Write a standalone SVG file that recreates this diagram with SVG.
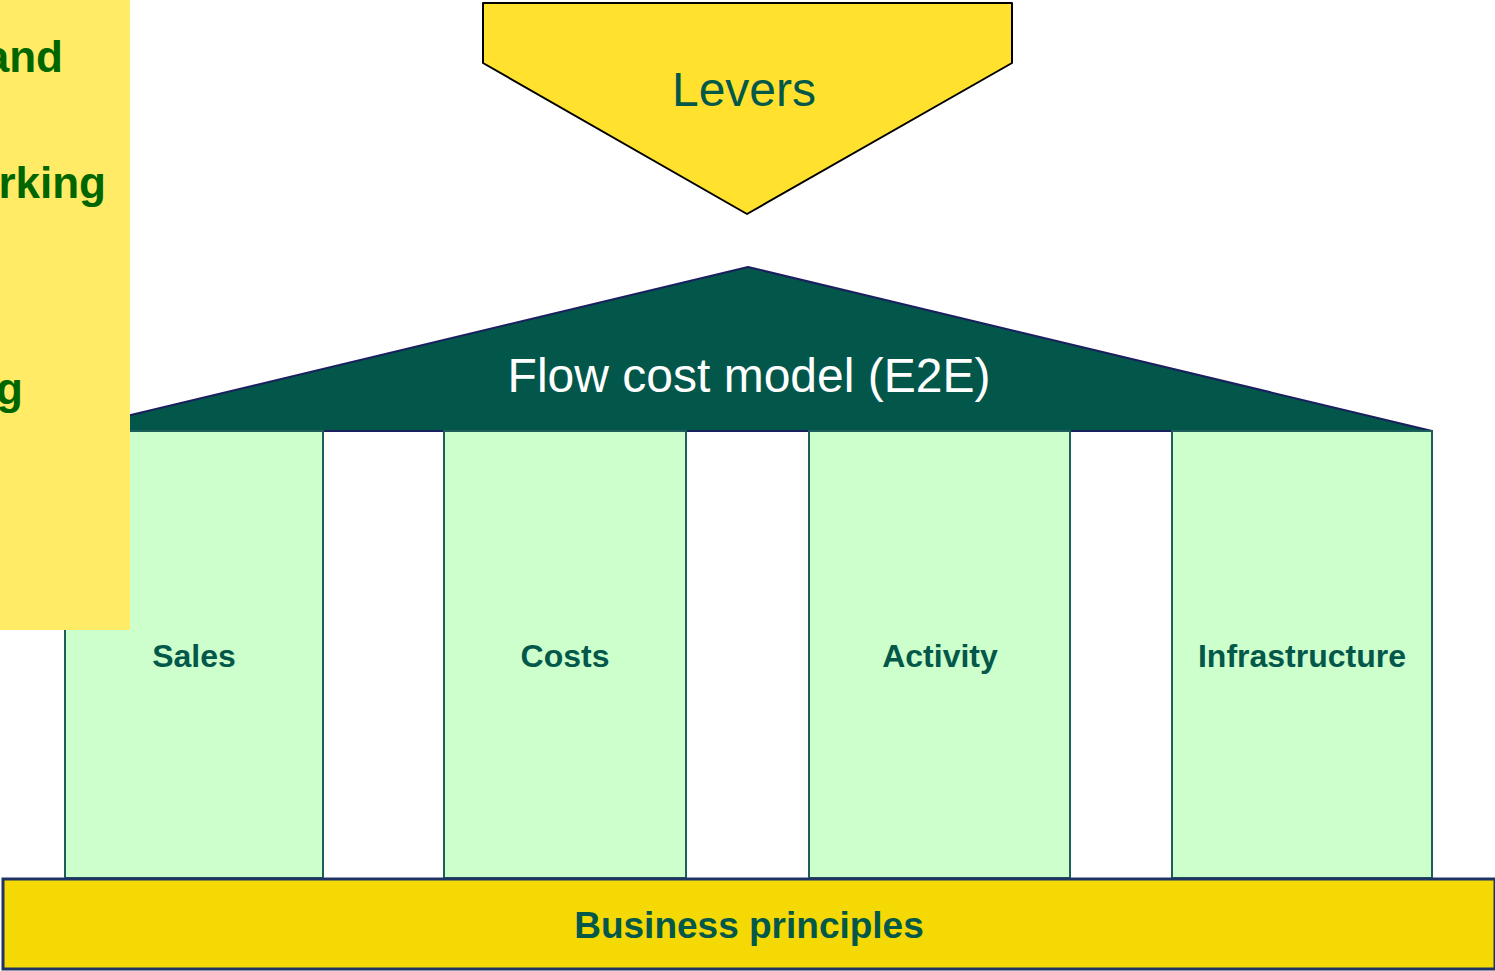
<svg xmlns="http://www.w3.org/2000/svg" width="1495" height="971" viewBox="0 0 1495 971">
  <style>
    .pillar { fill: #CCFFCC; stroke: #1E5E5A; stroke-width: 2; }
    .pillar-label { font-family: "Liberation Sans", Arial, sans-serif; font-weight: bold; font-size: 32px; fill: #03584A; text-anchor: middle; }
    .side-text { font-family: "Liberation Sans", Arial, sans-serif; font-weight: bold; font-size: 44px; fill: #006600; text-anchor: end; }
  </style>
  <rect x="0" y="0" width="1495" height="971" fill="#FFFFFF"/>

  <!-- roof -->
  <g id="roof">
    <polygon points="64,431 748,267 1432,431" fill="#02574A" stroke="#1A1F5E" stroke-width="2" stroke-linejoin="round"/>
    <text x="749" y="392" font-family="Liberation Sans, Arial, sans-serif" font-size="48" fill="#FFFFFF" text-anchor="middle">Flow cost model (E2E)</text>
  </g>

  <!-- pillars -->
  <g id="pillar-sales">
    <rect class="pillar" x="65" y="431" width="258" height="447"/>
    <text class="pillar-label" x="194" y="667">Sales</text>
  </g>
  <g id="pillar-costs">
    <rect class="pillar" x="444" y="431" width="242" height="447"/>
    <text class="pillar-label" x="565" y="667">Costs</text>
  </g>
  <g id="pillar-activity">
    <rect class="pillar" x="809" y="431" width="261" height="447"/>
    <text class="pillar-label" x="940" y="667">Activity</text>
  </g>
  <g id="pillar-infrastructure">
    <rect class="pillar" x="1172" y="431" width="260" height="447"/>
    <text class="pillar-label" x="1302" y="667">Infrastructure</text>
  </g>

  <!-- base -->
  <g id="business-principles">
    <rect x="3" y="879" width="1492" height="90" fill="#F5D905" stroke="#1F3464" stroke-width="3"/>
    <text x="749" y="938" font-family="Liberation Sans, Arial, sans-serif" font-weight="bold" font-size="37" fill="#03584A" text-anchor="middle">Business principles</text>
  </g>

  <!-- side panel -->
  <g id="side-panel">
    <rect x="0" y="0" width="130" height="630" fill="#FFEB66"/>
    <text class="side-text" x="63" y="72">and</text>
    <text class="side-text" x="106" y="198">rking</text>
    <text class="side-text" x="23" y="404">g</text>
  </g>

  <!-- levers -->
  <g id="levers">
    <polygon points="483,3 1012,3 1012,63 747,214 483,63" fill="#FFE12E" stroke="#000000" stroke-width="2" stroke-linejoin="round"/>
    <text x="744" y="106" font-family="Liberation Sans, Arial, sans-serif" font-size="48" fill="#03584A" text-anchor="middle">Levers</text>
  </g>
</svg>
